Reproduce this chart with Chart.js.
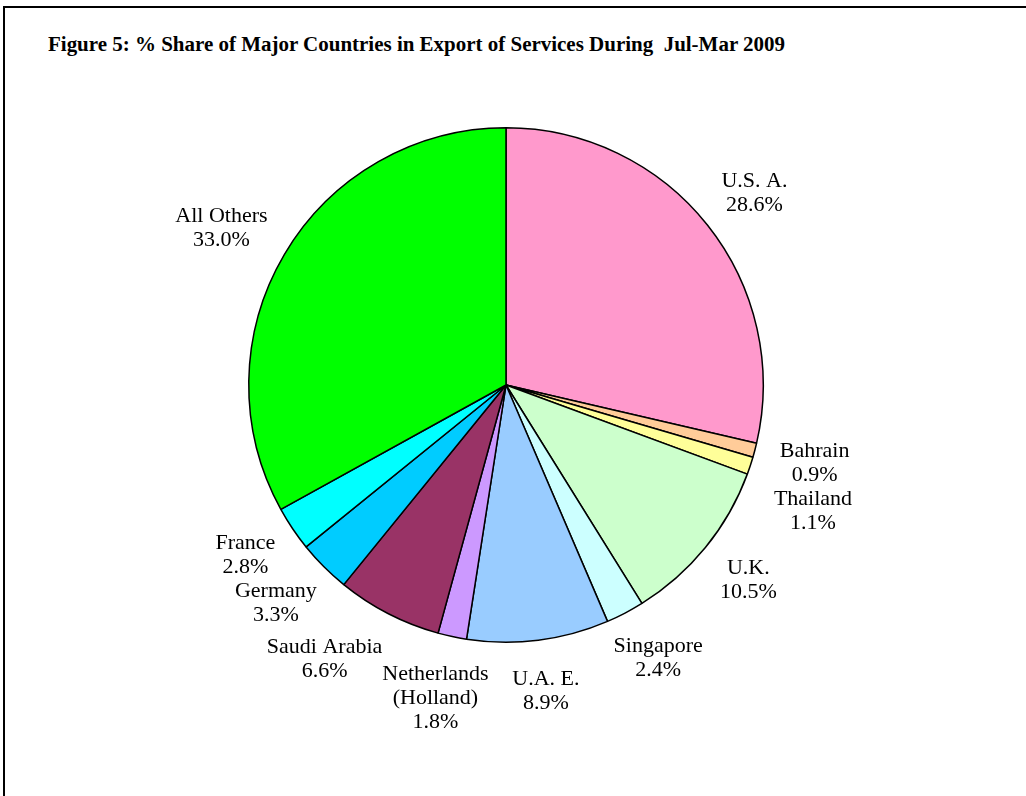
<!DOCTYPE html>
<html>
<head>
<meta charset="utf-8">
<script src="https://cdn.jsdelivr.net/npm/chart.js@4.4.1/dist/chart.umd.min.js"></script>
<style>
  html, body { margin: 0; padding: 0; background: #fff; }
  #wrap { position: relative; width: 1026px; height: 796px; overflow: hidden; }
  #frame { position: absolute; left: 3px; top: 6px; width: 1100px; height: 900px;
           border-top: 2px solid #000; border-left: 2px solid #000; }
  #title { position: absolute; left: 48px; top: 33px; font-family: "Liberation Serif", serif;
           font-weight: bold; font-size: 20px; white-space: pre; color: #000; transform-origin: 0 0; }
  canvas { position: absolute; left: 0; top: 0; }
</style>
</head>
<body>
<div id="wrap">
  <div id="frame"></div>
  <div id="title">Figure 5: % Share of Major Countries in Export of Services During  Jul-Mar 2009</div>
  <canvas id="c" width="1026" height="796"></canvas>
</div>
<script>
const categories = ["U.S. A.", "Bahrain", "Thailand", "U.K.", "Singapore", "U.A. E.",
                    "Netherlands\n(Holland)", "Saudi Arabia", "Germany", "France", "All Others"];
const shares = [28.6, 0.9, 1.1, 10.5, 2.4, 8.9, 1.8, 6.6, 3.3, 2.8, 33.0];
const colors = ["#FF99CC", "#FFCC99", "#FFFF99", "#CCFFCC", "#CCFFFF", "#99CCFF",
                "#CC99FF", "#993366", "#00CCFF", "#00FFFF", "#00FF00"];

// stretch title to the reference width
(function () {
  const t = document.getElementById('title');
  const w = t.getBoundingClientRect().width;
  t.style.transform = 'scaleX(' + (737 / w) + ')';
})();

const labelPlugin = {
  id: 'outLabels',
  afterDatasetsDraw(chart) {
    const ctx = chart.ctx;
    const meta = chart.getDatasetMeta(0);
    ctx.save();
    ctx.font = '22px "Liberation Serif", serif';
    ctx.fillStyle = '#000';
    ctx.textAlign = 'center';
    ctx.textBaseline = 'middle';
    const lineH = 24;
    const placed = [];
    meta.data.forEach((arc, i) => {
      const p = arc.getProps(['x', 'y', 'startAngle', 'endAngle', 'outerRadius'], true);
      const mid = (p.startAngle + p.endAngle) / 2;
      const ux = Math.cos(mid), uy = Math.sin(mid);
      const lines = categories[i].split('\n').concat([shares[i].toFixed(1) + '%']);
      const w = Math.max(...lines.map(l => ctx.measureText(l).width));
      const h = lines.length * lineH;
      const D = p.outerRadius + 27;
      let cx = p.x + D * ux + ux * w / 2;
      let cy = p.y + D * uy + uy * h / 2;
      // clockwise tangent; push overlapping labels along its dominant axis
      const tx = -uy, ty = ux;
      placed.forEach(b => {
        const ox = Math.abs(cx - b.cx) < (w + b.w) / 2;
        const oy = Math.abs(cy - b.cy) < (h + b.h) / 2;
        if (ox && oy) {
          if (Math.abs(ty) >= Math.abs(tx)) {
            cy = ty > 0 ? b.cy + (h + b.h) / 2 : b.cy - (h + b.h) / 2;
          } else {
            cx = tx > 0 ? b.cx + (w + b.w) / 2 : b.cx - (w + b.w) / 2;
          }
        }
      });
      placed.push({ cx, cy, w, h });
      lines.forEach((l, k) => {
        ctx.fillText(l, cx, cy - h / 2 + lineH * (k + 0.5));
      });
    });
    ctx.restore();
  }
};

new Chart(document.getElementById('c'), {
  type: 'pie',
  data: {
    labels: categories,
    datasets: [{
      data: shares,
      backgroundColor: colors,
      borderColor: '#000',
      borderWidth: 1.5,
      borderAlign: 'center'
    }]
  },
  options: {
    responsive: false,
    animation: false,
    events: [],
    layout: { padding: { left: 248, right: 262, top: 127, bottom: 153 } },
    plugins: { legend: { display: false }, tooltip: { enabled: false }, title: { display: false } }
  },
  plugins: [labelPlugin]
});
</script>
</body>
</html>
